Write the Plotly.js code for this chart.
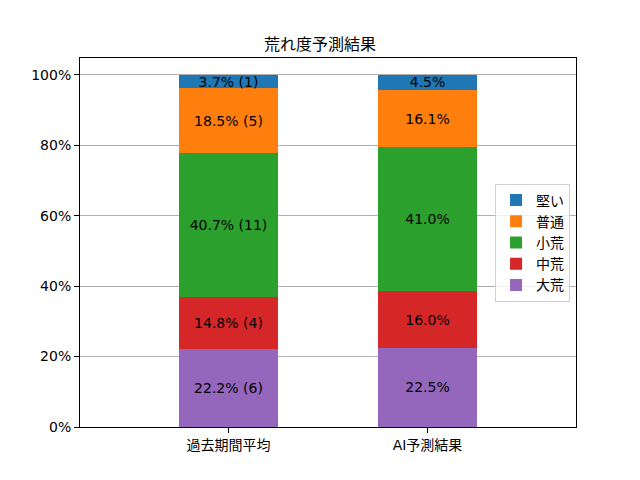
<!DOCTYPE html>
<html><head><meta charset="utf-8">
<script src="https://cdn.plot.ly/plotly-3.0.1.min.js"></script>
<style>html,body{margin:0;padding:0;background:#fff}#chart{width:640px;height:480px}</style>
</head><body><div id="chart"></div>
<script>
const categories = ['過去期間平均', 'AI予測結果'];
const levels = ['大荒', '中荒', '小荒', '普通', '堅い'];
const colors = ['#9467bd', '#d62728', '#2ca02c', '#ff7f0e', '#1f77b4'];
const pastPct = [22.2, 14.8, 40.7, 18.5, 3.7];
const pastCount = [6, 4, 11, 5, 1];
const aiPct = [22.5, 16.0, 41.0, 16.1, 4.5];

const font = '"DejaVu Sans", "Noto Sans CJK JP", sans-serif';
const traces = levels.map((lv, i) => ({
  type: 'bar',
  name: lv,
  x: categories,
  y: [pastPct[i] / 100, aiPct[i] / 100],
  text: [pastPct[i].toFixed(1) + '% (' + pastCount[i] + ')', aiPct[i].toFixed(1) + '%'],
  textposition: 'inside',
  insidetextanchor: 'middle',
  constraintext: 'none',
  textfont: {color: '#000', size: 14, family: font},
  marker: {color: colors[i], line: {width: 0}},
  width: 0.5,
  hoverinfo: 'skip'
}));

const layout = {
  width: 640, height: 480,
  margin: {l: 80, r: 64, t: 58, b: 53},
  barmode: 'stack',
  paper_bgcolor: '#fff', plot_bgcolor: '#fff',
  font: {family: font, size: 14, color: '#000'},
  title: {text: '荒れ度予測結果', font: {size: 16, family: font, color: '#000'}, x: 0.5, xanchor: 'center', y: (480 - 44) / 480, yanchor: 'middle'},
  xaxis: {
    type: 'category', range: [-0.746, 1.746],
    showline: true, linecolor: '#000', linewidth: 1, mirror: true,
    ticks: 'outside', ticklen: 5, tickcolor: '#000',
    showgrid: false, zeroline: false,
    tickfont: {size: 14, family: font}
  },
  yaxis: {
    range: [0, 1.048],
    tickvals: [0, 0.2, 0.4, 0.6, 0.8, 1.0],
    tickformat: '.0%',
    showline: true, linecolor: '#000', linewidth: 1, mirror: true,
    ticks: 'outside', ticklen: 5, tickcolor: '#000',
    showgrid: true, gridcolor: '#b0b0b0', gridwidth: 1,
    zeroline: false,
    tickfont: {size: 14, family: font}
  },
  legend: {
    x: 0.988, xanchor: 'right', y: 0.5, yanchor: 'middle',
    traceorder: 'reversed',
    bgcolor: 'rgba(255,255,255,0.8)', bordercolor: '#d0d0d0', borderwidth: 1,
    font: {size: 14, family: font}
  },
  showlegend: true
};

Plotly.newPlot('chart', traces, layout, {displayModeBar: false, staticPlot: true});
</script></body></html>
